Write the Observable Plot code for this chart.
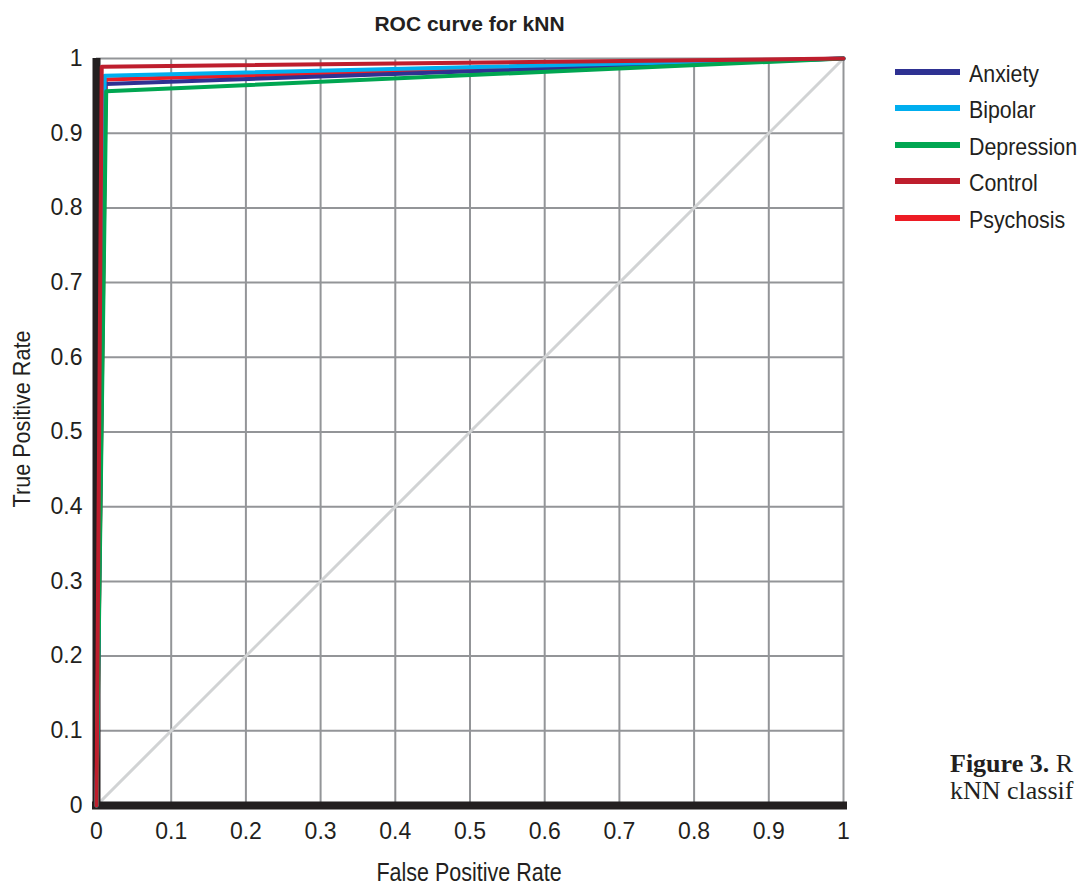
<!DOCTYPE html>
<html>
<head>
<meta charset="utf-8">
<script src="https://cdn.jsdelivr.net/npm/d3@7"></script>
<script src="https://cdn.jsdelivr.net/npm/@observablehq/plot@0.6"></script>
<style>
  html, body { margin: 0; padding: 0; background: #fff; overflow: hidden; }
  #wrap { position: relative; width: 1078px; height: 885px; overflow: hidden; font-family: "Liberation Sans", Arial, sans-serif; color: #231f20; }
  #chart { position: absolute; left: 0; top: 0; }
  .title { position: absolute; left: 0; width: 939px; top: 12px; text-align: center; font-weight: bold; font-size: 21px; }
  .xlabel { position: absolute; left: 0; width: 939px; top: 858px; text-align: center; font-size: 25px; transform: scaleX(0.86); transform-origin: 466px 0; }
  .ylabel { position: absolute; left: 22px; top: 419px; transform: translate(-50%, -50%) rotate(-90deg) scaleX(0.9); font-size: 24px; white-space: nowrap; }
  .legend { position: absolute; left: 895px; top: 0px; }
  .legend .row { position: absolute; left: 0; height: 30px; width: 200px; }
  .legend .sw { position: absolute; left: 0; top: 12px; width: 65px; height: 6px; }
  .legend .lab { position: absolute; left: 74px; top: 2px; font-size: 24px; line-height: 30px; white-space: nowrap; transform: scaleX(0.89); transform-origin: 0 0; }
  .caption { position: absolute; left: 950px; top: 750px; font-family: "Liberation Serif", "Times New Roman", serif; font-size: 26px; line-height: 27px; white-space: nowrap; color: #231f20; }
</style>
</head>
<body>
<div id="wrap">
  <div id="chart"></div>
  <div class="title">ROC curve for kNN</div>
  <div class="xlabel">False Positive Rate</div>
  <div class="ylabel">True Positive Rate</div>
  <div class="legend" id="legend"></div>
  <div class="caption"><b>Figure 3.</b> R<br>kNN classif</div>
</div>
<script>
// Data
const tickValues = [0, 0.1, 0.2, 0.3, 0.4, 0.5, 0.6, 0.7, 0.8, 0.9, 1];
const tickLabels = ["0", "0.1", "0.2", "0.3", "0.4", "0.5", "0.6", "0.7", "0.8", "0.9", "1"];
const seriesNames = ["Anxiety", "Bipolar", "Depression", "Control", "Psychosis"];
const seriesColors = ["#2e3192", "#00aeef", "#00a651", "#be1e2d", "#ed1c24"];
const cornerFPR = [0.012, 0.011, 0.013, 0.007, 0.0125];
const cornerTPR = [0.966, 0.977, 0.956, 0.989, 0.972];
const drawOrder = ["Psychosis", "Anxiety", "Bipolar", "Depression", "Control"];

const rocPoints = [];
drawOrder.forEach(s => {
  const i = seriesNames.indexOf(s);
  rocPoints.push({series: s, fpr: 0, tpr: 0});
  rocPoints.push({series: s, fpr: cornerFPR[i], tpr: cornerTPR[i]});
  rocPoints.push({series: s, fpr: 1, tpr: 1});
});
const diagonal = [{fpr: 0, tpr: 0}, {fpr: 1, tpr: 1}];
const fmt = d => tickLabels[tickValues.findIndex(t => Math.abs(t - d) < 1e-9)];

const chart = Plot.plot({
  width: 1078,
  height: 885,
  marginLeft: 96,
  marginRight: 235,
  marginTop: 58,
  marginBottom: 80,
  style: {fontFamily: "'Liberation Sans', Arial, sans-serif", fontSize: "23px", color: "#231f20", background: "transparent"},
  x: {domain: [0, 1], ticks: tickValues, tickFormat: fmt, tickSize: 0, tickPadding: 17, label: null},
  y: {domain: [0, 1], ticks: tickValues, tickFormat: fmt, tickSize: 0, tickPadding: 14, label: null},
  color: {domain: seriesNames, range: seriesColors},
  marks: [
    Plot.ruleX(tickValues, {stroke: "#939598", strokeWidth: 2}),
    Plot.ruleY(tickValues, {stroke: "#939598", strokeWidth: 2}),
    Plot.line(diagonal, {x: "fpr", y: "tpr", stroke: "#d1d3d4", strokeWidth: 3}),
    Plot.ruleX([0], {stroke: "#231f20", strokeWidth: 8}),
    Plot.ruleY([0], {stroke: "#231f20", strokeWidth: 8, strokeLinecap: "square"}),
    Plot.line(rocPoints, {x: "fpr", y: "tpr", z: "series", stroke: "series", strokeWidth: 4})
  ]
});
document.getElementById("chart").appendChild(chart);

const legend = document.getElementById("legend");
seriesNames.forEach((s, i) => {
  const row = document.createElement("div");
  row.className = "row";
  row.style.top = (56.5 + i * 36.5) + "px";
  row.innerHTML = `<div class="sw" style="background:${seriesColors[i]}"></div><div class="lab">${s}</div>`;
  legend.appendChild(row);
});
</script>
</body>
</html>
